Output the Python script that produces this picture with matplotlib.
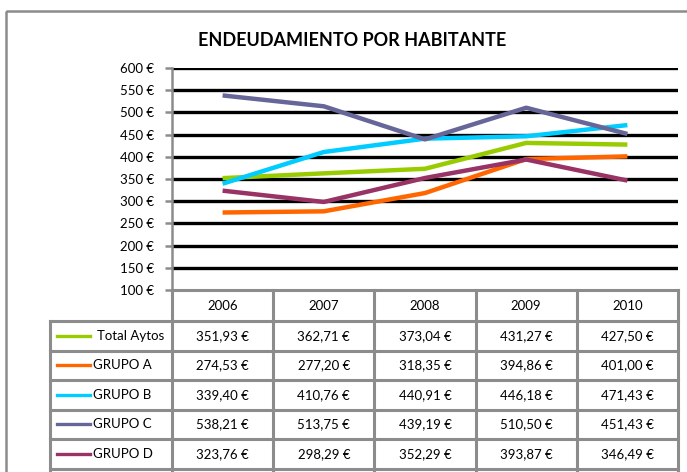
import matplotlib
matplotlib.use("Agg")
import matplotlib.pyplot as plt
from matplotlib.lines import Line2D
from matplotlib.patches import Rectangle

# ---- data -------------------------------------------------------------
years = ["2006", "2007", "2008", "2009", "2010"]
series_names = ["Total Aytos", "GRUPO A", "GRUPO B", "GRUPO C", "GRUPO D"]
total_aytos = [351.93, 362.71, 373.04, 431.27, 427.50]
grupo_a = [274.53, 277.20, 318.35, 394.86, 401.00]
grupo_b = [339.40, 410.76, 440.91, 446.18, 471.43]
grupo_c = [538.21, 513.75, 439.19, 510.50, 451.43]
grupo_d = [323.76, 298.29, 352.29, 393.87, 346.49]
series_values = [total_aytos, grupo_a, grupo_b, grupo_c, grupo_d]
series_colors = ["#99CC00", "#FF6600", "#00CCFF", "#666699", "#993366"]
y_ticks = [100, 150, 200, 250, 300, 350, 400, 450, 500, 550, 600]
title = "ENDEUDAMIENTO POR HABITANTE"

FONT = ["Lato", "DejaVu Sans"]
plt.rcParams["font.family"] = FONT
FS = 9.5

W, H = 687, 472
fig = plt.figure(figsize=(W / 100, H / 100), dpi=100)
fig.patch.set_facecolor("white")

# pixel-space canvas for frame, table and legend keys
bg = fig.add_axes([0, 0, 1, 1])
bg.set_xlim(0, W)
bg.set_ylim(H, 0)
bg.axis("off")

GREY = "#8c8c8c"

# outer chart frame (runs past the right and bottom edges)
bg.add_patch(Rectangle((6, 11), 700, 500, fill=False, edgecolor=GREY, lw=1.8))

# plot area geometry (pixels)
px0, px1 = 172, 678
py_top, py_bot = 68, 290

ax = fig.add_axes([px0 / W, (H - py_bot) / H, (px1 - px0) / W, (py_bot - py_top) / H])
ax.set_xlim(-0.5, len(years) - 0.5)
ax.set_ylim(y_ticks[0], y_ticks[-1])
ax.set_facecolor("none")
for v in y_ticks[1:]:
    ax.axhline(v, color="black", lw=2.4, zorder=1)
for s in ["top", "right", "bottom"]:
    ax.spines[s].set_visible(False)
ax.spines["left"].set_color(GREY)
ax.spines["left"].set_linewidth(1.8)
ax.set_yticks(y_ticks)
ax.set_yticklabels([f"{v} €" for v in y_ticks], fontsize=FS)
ax.tick_params(axis="y", length=5, width=1.8, color=GREY, pad=8)
ax.set_xticks([])

x = list(range(len(years)))
for vals, c in zip(series_values, series_colors):
    ax.plot(x, vals, color=c, lw=3.2, solid_capstyle="butt", zorder=3)

fig.text(352 / W, 1 - 41 / H, title, ha="center", va="center",
         fontsize=13, fontweight="bold", family=FONT)

# ---- data table -------------------------------------------------------
col_w = (px1 - px0) / len(years)
col_edges = [px0 + i * col_w for i in range(len(years) + 1)]
leg_x0 = 50
head_top, head_bot = 290, 321
row_h = 29.5
row_edges = [head_bot + i * row_h for i in range(len(series_names) + 1)]

lw_t = 2.2
for xe in col_edges:
    bg.plot([xe, xe], [head_top, row_edges[-1] + 10], color=GREY, lw=lw_t)
bg.plot([leg_x0, leg_x0], [head_bot, row_edges[-1] + 10], color=GREY, lw=lw_t)
bg.plot([px0, px1], [head_top, head_top], color=GREY, lw=lw_t)
for ye in row_edges:
    bg.plot([leg_x0, px1], [ye, ye], color=GREY, lw=lw_t)

for i, yr in enumerate(years):
    bg.text((col_edges[i] + col_edges[i + 1]) / 2, (head_top + head_bot) / 2 + 1, yr,
            ha="center", va="center", fontsize=FS)

for r, (name, vals, c) in enumerate(zip(series_names, series_values, series_colors)):
    yc = (row_edges[r] + row_edges[r + 1]) / 2
    bg.add_line(Line2D([57, 90], [yc, yc], color=c, lw=2.4))
    bg.text(97 if r == 0 else 93, yc, name, ha="left", va="center", fontsize=FS)
    for i, v in enumerate(vals):
        txt = f"{v:.2f}".replace(".", ",") + " €"
        bg.text((col_edges[i] + col_edges[i + 1]) / 2, yc, txt,
                ha="center", va="center", fontsize=FS)

fig.savefig("out.png", dpi=100, facecolor="white")
